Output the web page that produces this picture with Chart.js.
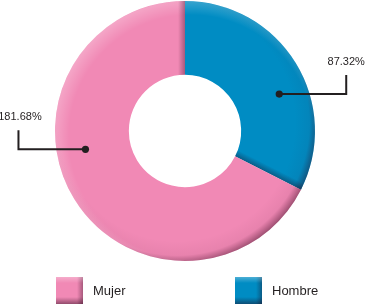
<!DOCTYPE html>
<html><head><meta charset="utf-8">
<script src="https://cdn.jsdelivr.net/npm/chart.js@4/dist/chart.umd.min.js"></script>
<style>html,body{margin:0;padding:0;background:#fff;overflow:hidden}#wrap{width:367px;height:304px;position:relative}</style>
</head><body><div id="wrap"><canvas id="c" width="367" height="304"></canvas></div>
<script>
const categories = ['Hombre', 'Mujer'];
const values = [87.32, 181.68];
const valueLabels = ['87.32%', '181.68%'];
const colors = ['#008CC3', '#F189B5'];
const legendOrder = ['Mujer', 'Hombre'];

const FONT = 'Liberation Sans, Arial, sans-serif';

function arcPath(ctx, a) {
  ctx.beginPath();
  ctx.arc(a.x, a.y, a.outerRadius, a.startAngle, a.endAngle);
  ctx.arc(a.x, a.y, a.innerRadius, a.endAngle, a.startAngle, true);
  ctx.closePath();
}

const bevelPlugin = {
  id: 'bevel',
  afterDatasetsDraw(chart) {
    const ctx = chart.ctx;
    const meta = chart.getDatasetMeta(0);
    meta.data.forEach((el) => {
      const a = el.getProps(['x','y','startAngle','endAngle','innerRadius','outerRadius'], true);
      const box = [a.x - a.outerRadius - 5, a.y - a.outerRadius - 5, a.outerRadius * 2 + 10, a.outerRadius * 2 + 10];
      ctx.save();
      arcPath(ctx, a);
      ctx.clip();
      // outer edge shading (darker bottom-right)
      const g = ctx.createRadialGradient(a.x - 8, a.y - 8, a.outerRadius - 12, a.x - 8, a.y - 8, a.outerRadius + 12);
      g.addColorStop(0, 'rgba(60,0,30,0)');
      g.addColorStop(0.6, 'rgba(60,0,30,0.05)');
      g.addColorStop(1, 'rgba(40,0,20,0.45)');
      ctx.fillStyle = g;
      ctx.fillRect(box[0], box[1], box[2], box[3]);
      // top-left highlight
      const h = ctx.createRadialGradient(a.x + 6, a.y + 6, a.outerRadius - 8, a.x + 6, a.y + 6, a.outerRadius + 8);
      h.addColorStop(0, 'rgba(255,255,255,0)');
      h.addColorStop(1, 'rgba(255,255,255,0.25)');
      ctx.fillStyle = h;
      ctx.fillRect(box[0], box[1], box[2], box[3]);
      // shading near the end edge of each slice (thin strip only)
      const e = a.endAngle;
      const nx = Math.sin(e), ny = -Math.cos(e);
      const w = 7;
      const fx = a.x + Math.cos(e) * (a.outerRadius + 5), fy = a.y + Math.sin(e) * (a.outerRadius + 5);
      const lg = ctx.createLinearGradient(a.x, a.y, a.x + nx * w, a.y + ny * w);
      lg.addColorStop(0, 'rgba(30,0,20,0.35)');
      lg.addColorStop(1, 'rgba(30,0,20,0)');
      ctx.fillStyle = lg;
      ctx.beginPath();
      ctx.moveTo(a.x, a.y);
      ctx.lineTo(fx, fy);
      ctx.lineTo(fx + nx * w, fy + ny * w);
      ctx.lineTo(a.x + nx * w, a.y + ny * w);
      ctx.closePath();
      ctx.fill();
      ctx.restore();
    });
  }
};

const leaderPlugin = {
  id: 'leaders',
  afterDraw(chart) {
    const ctx = chart.ctx;
    const meta = chart.getDatasetMeta(0);
    meta.data.forEach((el, i) => {
      const a = el.getProps(['x','y','startAngle','endAngle','innerRadius','outerRadius'], true);
      const ang = a.startAngle + 0.587 * (a.endAngle - a.startAngle);
      const r = a.innerRadius + 0.61 * (a.outerRadius - a.innerRadius);
      const px = a.x + r * Math.cos(ang), py = a.y + r * Math.sin(ang);
      const dir = Math.cos(ang) >= 0 ? 1 : -1;
      const ex = px + dir * 67, ey = py - 19;
      ctx.save();
      ctx.strokeStyle = '#231F20';
      ctx.lineWidth = 2;
      ctx.beginPath();
      ctx.moveTo(px, py);
      ctx.lineTo(ex, py);
      ctx.lineTo(ex, ey);
      ctx.stroke();
      ctx.fillStyle = '#231F20';
      ctx.beginPath();
      ctx.arc(px, py, 3.6, 0, Math.PI * 2);
      ctx.fill();
      ctx.font = '11px ' + FONT;
      ctx.textAlign = 'center';
      ctx.textBaseline = 'alphabetic';
      ctx.fillText(valueLabels[i], ex + (dir > 0 ? 0 : 1.5), ey - 10.5);
      ctx.restore();
    });
  }
};

const legendPlugin = {
  id: 'customLegend',
  afterDraw(chart) {
    const ctx = chart.ctx;
    const startX = [56, 235];
    const top = 277, size = 27;
    legendOrder.forEach((name, k) => {
      const idx = categories.indexOf(name);
      const x = startX[k];
      ctx.save();
      ctx.fillStyle = colors[idx];
      ctx.fillRect(x, top, size, size);
      let g = ctx.createLinearGradient(0, top + size - 7, 0, top + size);
      g.addColorStop(0, 'rgba(30,0,20,0)');
      g.addColorStop(1, 'rgba(30,0,20,0.45)');
      ctx.fillStyle = g;
      ctx.fillRect(x, top + size - 7, size, 7);
      g = ctx.createLinearGradient(x + size - 6, 0, x + size, 0);
      g.addColorStop(0, 'rgba(30,0,20,0)');
      g.addColorStop(1, 'rgba(30,0,20,0.35)');
      ctx.fillStyle = g;
      ctx.fillRect(x + size - 6, top, 6, size);
      g = ctx.createLinearGradient(0, top, 0, top + 6);
      g.addColorStop(0, 'rgba(255,255,255,0.3)');
      g.addColorStop(1, 'rgba(255,255,255,0)');
      ctx.fillStyle = g;
      ctx.fillRect(x, top, size, 6);
      ctx.fillStyle = '#231F20';
      ctx.font = '13px ' + FONT;
      ctx.textAlign = 'left';
      ctx.textBaseline = 'middle';
      ctx.fillText(name, x + size + 10, top + size / 2 + 1);
      ctx.restore();
    });
  }
};

new Chart(document.getElementById('c'), {
  type: 'doughnut',
  data: {
    labels: categories,
    datasets: [{
      data: values,
      backgroundColor: colors,
      borderWidth: 0,
      hoverOffset: 0
    }]
  },
  options: {
    responsive: false,
    animation: false,
    devicePixelRatio: 1,
    events: [],
    cutout: '43.2%',
    rotation: 0,
    layout: { padding: { top: 1, bottom: 43, left: 55, right: 52 } },
    plugins: { legend: { display: false }, tooltip: { enabled: false } }
  },
  plugins: [bevelPlugin, leaderPlugin, legendPlugin]
});
</script>
</body></html>
